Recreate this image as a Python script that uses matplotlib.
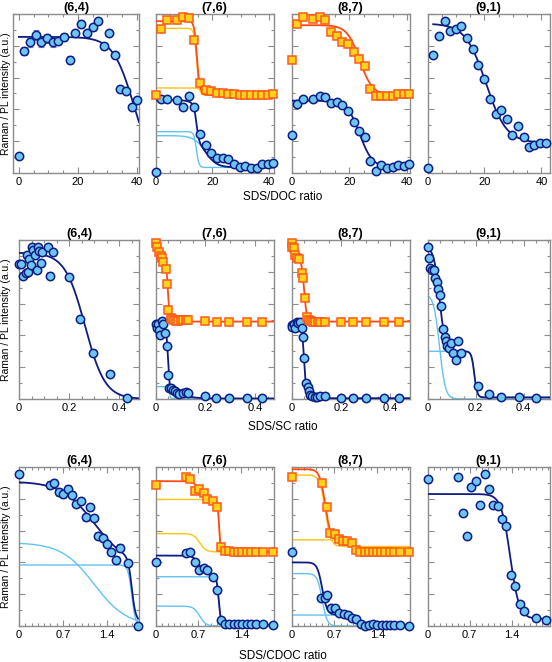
import numpy as np
import matplotlib.pyplot as plt
from matplotlib.ticker import MultipleLocator, FuncFormatter

plt.rcParams['font.family'] = ['Liberation Sans', 'DejaVu Sans']

W, H = 552, 662

chiralities = ['(6,4)', '(7,6)', '(8,7)', '(9,1)']
ratio_labels = ['SDS/DOC ratio', 'SDS/SC ratio', 'SDS/CDOC ratio']

# fit = (base, [(amplitude, centre, width, drawn_base or None)], x_from, x_to)

# ---------------- SDS/DOC ----------------
doc_64_x = [0, 1.8, 3.8, 5.7, 7.6, 9.5, 11.5, 13.4, 15.3, 17.2, 19.0, 21.0, 23.0, 25.0,
            26.8, 28.7, 30.5, 32.4, 34.3, 36.3, 38.2, 40.1]
doc_64_pl = [0.109, 0.77, 0.822, 0.868, 0.822, 0.847, 0.822, 0.83, 0.854, 0.711, 0.879, 0.937,
             0.879, 0.916, 0.954, 0.80, 0.879, 0.743, 0.527, 0.515, 0.414, 0.456]
doc_64_err = [0, 0.025, 0.03, 0.03, 0.03, 0.03, 0.03, 0.025, 0.025, 0.025, 0.02, 0.025, 0.02,
              0.02, 0.02, 0, 0, 0, 0, 0, 0, 0]
doc_64_plfit = (0.0, [(0.856, 38.9, 3.5, None)], 0, 40.7)

doc_76_x = [0, 1.9, 3.9, 7.7, 9.7, 11.7, 13.7, 15.7, 17.7, 19.6, 21.6, 23.6, 25.6, 27.6,
            29.6, 31.6, 33.6, 35.6, 37.5, 39.5, 41.5]
doc_76_pl = [0.008, 0.464, 0.464, 0.456, 0.418, 0.485, 0.418, 0.247, 0.178, 0.126, 0.092,
             0.096, 0.088, 0.059, 0.038, 0.042, 0.033, 0.033, 0.059, 0.059, 0.063]
doc_76_raman = [0.492, 0.904, 0.962, 0.962, 0.979, 0.973, 0.837, 0.565, 0.523, 0.513, 0.502,
                0.502, 0.498, 0.494, 0.492, 0.49, 0.49, 0.49, 0.49, 0.492, 0.494]
doc_76_plfit = (0.035, [(0.225, 14.4, 0.45, 0.035), (0.2, 17.5, 2.0, 0.035)], 0, 41.7)
doc_76_ramfit = (0.49, [(0.42, 14.5, 0.45, 0.49), (0.045, 16.0, 0.5, 0.49)], 0, 41.7)

doc_87_x = [0, 2, 3.9, 7.6, 9.7, 11.7, 13.6, 15.6, 17.6, 19.5, 21.5, 23.4, 25.4, 27.1, 29.1,
            31.1, 33.1, 35.0, 37.0, 39.0, 40.7]
doc_87_pl = [0.24, 0.433, 0.464, 0.464, 0.487, 0.481, 0.439, 0.444, 0.429, 0.391, 0.32, 0.266,
             0.224, 0.077, 0.01, 0.048, 0.031, 0.036, 0.048, 0.042, 0.054]
doc_87_raman = [0.711, 0.937, 0.979, 0.969, 0.979, 0.962, 0.885, 0.864, 0.826, 0.81, 0.764,
                0.715, 0.674, 0.529, 0.487, 0.487, 0.487, 0.487, 0.496, 0.494, 0.494]
doc_87_plfit = (0.035, [(0.42, 23.6, 2.2, None)], 0, 41.0)
doc_87_ramfit = (0.49, [(0.44, 23.6, 2.2, None)], 0, 41.0)

doc_91_x = [0, 2.1, 4, 6.1, 8, 9.9, 11.9, 13.9, 15.9, 17.9, 19.9, 21.9, 23.9, 25.8, 27.8,
            29.7, 31.7, 33.7, 35.6, 37.5, 39.5, 41.5]
doc_91_pl = [0.029, 0.743, 0.862, 0.954, 0.895, 0.908, 0.925, 0.851, 0.782, 0.68, 0.592, 0.464,
             0.37, 0.397, 0.341, 0.241, 0.297, 0.226, 0.161, 0.174, 0.188, 0.188]
doc_91_plfit = (0.19, [(0.75, 20.5, 3.6, None)], 2, 41.5)

# ---------------- SDS/SC ----------------
sc_64_x = [0, 0.007, 0.017, 0.028, 0.031, 0.036, 0.041, 0.047, 0.052, 0.057, 0.063, 0.071,
           0.076, 0.081, 0.087, 0.092, 0.115, 0.124, 0.135, 0.201, 0.244, 0.295, 0.364, 0.431]
sc_64_pl = [0.847, 0.847, 0.776, 0.79, 0.906, 0.797, 0.878, 0.843, 0.954, 0.937, 0.906, 0.811,
            0.954, 0.931, 0.853, 0.922, 0.954, 0.776, 0.922, 0.765, 0.503, 0.287, 0.157, 0.004]
sc_64_err = [0, 0, 0, 0, 0, 0, 0, 0, 0.02, 0.02, 0.02, 0.02, 0.02, 0.02, 0.02, 0.02, 0.02,
             0.02, 0.02, 0, 0, 0, 0, 0]
sc_64_plfit = (0.0, [(0.92, 0.264, 0.04, None)], 0, 0.48)

sc_76_ramx = [0, 0.008, 0.015, 0.021, 0.028, 0.032, 0.041, 0.047, 0.052, 0.061, 0.067, 0.075,
              0.083, 0.092, 0.101, 0.112, 0.121, 0.131, 0.2, 0.248, 0.293, 0.365, 0.428]
sc_76_raman = [0.979, 0.958, 0.927, 0.9, 0.887, 0.86, 0.818, 0.723, 0.56, 0.512, 0.503, 0.495,
               0.491, 0.493, 0.495, 0.495, 0.497, 0.495, 0.491, 0.486, 0.486, 0.486, 0.486]
sc_76_plx = [0, 0.005, 0.012, 0.015, 0.019, 0.025, 0.031, 0.039, 0.047, 0.052, 0.056, 0.064,
             0.069, 0.077, 0.085, 0.096, 0.111, 0.121, 0.131, 0.2, 0.241, 0.293, 0.365, 0.428]
sc_76_pl = [0.47, 0.444, 0.47, 0.434, 0.402, 0.49, 0.47, 0.413, 0.335, 0.151, 0.071, 0.067,
            0.055, 0.05, 0.036, 0.029, 0.036, 0.046, 0.036, 0.019, 0.008, 0.004, 0.004, 0.004]
sc_76_ramfit = (0.487, [(0.2, 0.035, 0.01, None), (0.3, 0.05, 0.003, None)], 0, 0.48)
sc_76_plfit = (0.003, [(0.075, 0.056, 0.002, 0.003), (0.33, 0.049, 0.003, None),
                       (0.05, 0.1, 0.03, None)], 0, 0.48)

sc_87_ramx = [0, 0.003, 0.01, 0.014, 0.022, 0.03, 0.041, 0.048, 0.054, 0.063, 0.071, 0.079,
              0.087, 0.097, 0.107, 0.117, 0.136, 0.2, 0.248, 0.3, 0.373, 0.437]
sc_87_raman = [0.983, 0.958, 0.948, 0.906, 0.889, 0.878, 0.79, 0.759, 0.633, 0.518, 0.497,
               0.491, 0.486, 0.486, 0.486, 0.486, 0.486, 0.486, 0.486, 0.486, 0.486, 0.486]
sc_87_plx = [0, 0.003, 0.01, 0.015, 0.022, 0.027, 0.033, 0.041, 0.046, 0.052, 0.06, 0.065,
             0.071, 0.076, 0.084, 0.094, 0.105, 0.117, 0.136, 0.2, 0.248, 0.3, 0.373, 0.437]
sc_87_pl = [0.465, 0.455, 0.47, 0.449, 0.482, 0.478, 0.486, 0.444, 0.388, 0.256, 0.099, 0.078,
            0.052, 0.025, 0.019, 0.015, 0.015, 0.019, 0.019, 0.004, 0.004, 0.004, 0.004, 0.004]
sc_87_ramfit = (0.487, [(0.15, 0.03, 0.008, None), (0.35, 0.052, 0.005, None)], 0, 0.48)
sc_87_plfit = (0.005, [(0.42, 0.05, 0.004, None), (0.05, 0.068, 0.004, None)], 0, 0.48)

sc_91_x = [0, 0.007, 0.012, 0.019, 0.028, 0.032, 0.039, 0.044, 0.05, 0.055, 0.064, 0.072,
           0.078, 0.082, 0.09, 0.097, 0.107, 0.12, 0.129, 0.141, 0.211, 0.256, 0.307, 0.381,
           0.45]
sc_91_pl = [0.954, 0.889, 0.822, 0.811, 0.811, 0.759, 0.738, 0.692, 0.654, 0.585, 0.438, 0.388,
            0.365, 0.333, 0.319, 0.35, 0.287, 0.245, 0.365, 0.287, 0.082, 0.031, 0.015, 0.015,
            0.008]
sc_91_plfit = (0.01, [(0.66, 0.05, 0.012, 0.0), (0.29, 0.195, 0.006, 0.01)], 0, 0.51)

# ---------------- SDS/CDOC ----------------
cdoc_64_x = [0, 0.488, 0.563, 0.633, 0.703, 0.778, 0.842, 0.917, 0.987, 1.062, 1.127, 1.202,
             1.261, 1.336, 1.406, 1.475, 1.545, 1.615, 1.733, 1.894]
cdoc_64_pl = [0.956, 0.884, 0.899, 0.842, 0.83, 0.861, 0.826, 0.769, 0.788, 0.683, 0.746,
              0.679, 0.569, 0.553, 0.515, 0.464, 0.416, 0.489, 0.395, 0.0]
cdoc_64_err = [0, 0.025, 0.025, 0.025, 0.025, 0.025, 0.02, 0.02, 0.02, 0.02, 0.02, 0.02,
               0.02, 0.02, 0.02, 0.02, 0.025, 0.025, 0.02, 0]
cdoc_64_plfit = (0.0, [(0.525, 1.2, 0.26, 0.0), (0.384, 1.8, 0.03, 0.0)], 0, 1.9)

cdoc_76_x = [0, 0.489, 0.565, 0.636, 0.712, 0.783, 0.837, 0.929, 0.995, 1.065, 1.13, 1.2,
             1.272, 1.348, 1.413, 1.484, 1.554, 1.63, 1.745, 1.918]
cdoc_76_raman = [0.884, 0.935, 0.924, 0.851, 0.861, 0.836, 0.798, 0.788, 0.748, 0.494, 0.473,
                 0.473, 0.468, 0.468, 0.468, 0.468, 0.464, 0.464, 0.464, 0.464]
cdoc_76_pl = [0.405, 0.462, 0.464, 0.401, 0.353, 0.363, 0.353, 0.307, 0.227, 0.038, 0.011,
              0.011, 0.013, 0.015, 0.015, 0.013, 0.011, 0.013, 0.011, 0.006]
cdoc_76_ramfit = (0.466, [(0.33, 1.035, 0.012, 0.466), (0.115, 0.72, 0.05, 0.466)], 0, 1.92)
cdoc_76_plfit = (0.008, [(0.31, 1.03, 0.018, 0.0), (0.125, 0.72, 0.05, 0.0)], 0, 1.92)

cdoc_87_ramx = [0, 0.5, 0.576, 0.63, 0.701, 0.766, 0.837, 0.908, 0.989, 1.054, 1.12, 1.19,
                1.255, 1.326, 1.391, 1.462, 1.527, 1.598, 1.663, 1.761, 1.913]
cdoc_87_raman = [0.935, 0.899, 0.746, 0.588, 0.578, 0.546, 0.532, 0.532, 0.525, 0.479, 0.468,
                 0.464, 0.468, 0.464, 0.468, 0.468, 0.464, 0.464, 0.464, 0.464, 0.464]
cdoc_87_plx = [0, 0.484, 0.538, 0.576, 0.636, 0.712, 0.772, 0.848, 0.918, 0.989, 1.054, 1.125,
               1.19, 1.261, 1.326, 1.391, 1.467, 1.533, 1.598, 1.668, 1.761, 1.913]
cdoc_87_pl = [0.468, 0.174, 0.179, 0.195, 0.116, 0.116, 0.08, 0.076, 0.069, 0.053, 0.044,
              0.011, 0.002, 0.006, 0.011, 0.006, 0.006, 0.006, 0.006, 0.006, 0.006, 0.002]
cdoc_87_ramfit = (0.466, [(0.45, 0.55, 0.045, 0.5), (0.07, 1.03, 0.02, 0.472)], 0, 1.92)
cdoc_87_plfit = (0.005, [(0.33, 0.5, 0.04, 0.0), (0.065, 1.08, 0.025, 0.004)], 0, 1.92)

cdoc_91_x = [0, 0.508, 0.58, 0.652, 0.729, 0.801, 0.873, 0.945, 1.017, 1.088, 1.16, 1.232,
             1.309, 1.381, 1.453, 1.525, 1.597, 1.79, 1.967]
cdoc_91_pl = [0.924, 0.935, 0.71, 0.563, 0.874, 0.91, 0.763, 0.956, 0.861, 0.763, 0.756, 0.672,
              0.626, 0.321, 0.254, 0.137, 0.095, 0.048, 0.038]
cdoc_91_plfit = (0.045, [(0.785, 1.37, 0.075, None)], 0, 1.97)

# panel table built from the arrays above
panels = [
    [dict(xlim=(-2, 40.7), pl=(doc_64_x, doc_64_pl, doc_64_err), plfit=doc_64_plfit),
     dict(xlim=(0, 41.7), pl=(doc_76_x, doc_76_pl, None), plfit=doc_76_plfit,
          ram=(doc_76_x, doc_76_raman), ramfit=doc_76_ramfit),
     dict(xlim=(0, 41.0), pl=(doc_87_x, doc_87_pl, None), plfit=doc_87_plfit,
          ram=(doc_87_x, doc_87_raman), ramfit=doc_87_ramfit),
     dict(xlim=(0, 43.0), pl=(doc_91_x, doc_91_pl, None), plfit=doc_91_plfit)],
    [dict(xlim=(0, 0.48), pl=(sc_64_x, sc_64_pl, sc_64_err), plfit=sc_64_plfit),
     dict(xlim=(0, 0.475), pl=(sc_76_plx, sc_76_pl, None), plfit=sc_76_plfit,
          ram=(sc_76_ramx, sc_76_raman), ramfit=sc_76_ramfit),
     dict(xlim=(0, 0.48), pl=(sc_87_plx, sc_87_pl, None), plfit=sc_87_plfit,
          ram=(sc_87_ramx, sc_87_raman), ramfit=sc_87_ramfit),
     dict(xlim=(0, 0.51), pl=(sc_91_x, sc_91_pl, None), plfit=sc_91_plfit)],
    [dict(xlim=(0, 1.915), pl=(cdoc_64_x, cdoc_64_pl, cdoc_64_err), plfit=cdoc_64_plfit),
     dict(xlim=(0, 1.93), pl=(cdoc_76_x, cdoc_76_pl, None), plfit=cdoc_76_plfit,
          ram=(cdoc_76_x, cdoc_76_raman), ramfit=cdoc_76_ramfit),
     dict(xlim=(0, 1.93), pl=(cdoc_87_plx, cdoc_87_pl, None), plfit=cdoc_87_plfit,
          ram=(cdoc_87_ramx, cdoc_87_raman), ramfit=cdoc_87_ramfit),
     dict(xlim=(0, 2.03), pl=(cdoc_91_x, cdoc_91_pl, None), plfit=cdoc_91_plfit)],
]

row_px = [(14, 173), (240, 399), (467, 626)]
col_px = [(19, 139), (155.5, 274), (291.5, 410), (427.5, 550)]
xticks = [(20, 5), (0.2, 0.05), (0.7, 0.1)]

NAVY = '#0e1c84'
CFACE = '#6cc6f0'
ORANGE = '#ff4a14'
SFACE = '#ffd21c'
SEDGE = '#ff5a1a'
YELLOW = '#ffc50f'
LBLUE = '#62c3f2'
ERRC = '#7d7dd0'
GRID = '#8c8c8c'


def sig(x, a, x0, w):
    return a / (1 + np.exp(np.clip((x - x0) / w, -60, 60)))


def draw_fit(ax, fit, col, comp_col):
    base, comps, x_from, x_to = fit
    xx = np.linspace(x_from, x_to, 600)
    total = np.full_like(xx, base)
    for a, x0, w, db in comps:
        total += sig(xx, a, x0, w)
        if db is not None:
            ax.plot(xx, db + sig(xx, a, x0, w), color=comp_col, lw=1.0, zorder=2)
    ax.plot(xx, total, color=col, lw=1.3, zorder=3)


fig = plt.figure(figsize=(W / 100, H / 100), dpi=100)

for r in range(3):
    top, bot = row_px[r]
    for c in range(4):
        l, rr = col_px[c]
        if r == 0 and c == 0:
            l = 13
        ax = fig.add_axes([l / W, 1 - bot / H, (rr - l) / W, (bot - top) / H])
        p = panels[r][c]

        if 'ramfit' in p:
            draw_fit(ax, p['ramfit'], ORANGE, YELLOW)
        draw_fit(ax, p['plfit'], NAVY, LBLUE)

        px, py, perr = p['pl']
        if perr is not None:
            ax.errorbar(px, py, yerr=perr, fmt='none', ecolor=ERRC, elinewidth=0.8,
                        capsize=2, capthick=0.8, zorder=4)
        ax.plot(px, py, 'o', ms=6.0, mfc=CFACE, mec=NAVY, mew=1.1, zorder=5, clip_on=False)
        if 'ram' in p:
            rx, ry = p['ram']
            ax.plot(rx, ry, 's', ms=5.4, mfc=SFACE, mec=SEDGE, mew=1.1, zorder=5,
                    clip_on=False)

        ax.set_xlim(*p['xlim'])
        ax.set_ylim(0, 1)
        ax.xaxis.set_major_locator(MultipleLocator(xticks[r][0]))
        ax.xaxis.set_minor_locator(MultipleLocator(xticks[r][1]))
        ax.xaxis.set_major_formatter(FuncFormatter(lambda v, pos: '0' if abs(v) < 1e-9 else '%g' % v))
        ax.yaxis.set_major_locator(MultipleLocator(0.2))
        ax.yaxis.set_minor_locator(MultipleLocator(0.1))
        ax.set_yticklabels([])
        ax.tick_params(which='both', direction='in', top=True, right=True, color=GRID,
                       width=0.8, labelsize=8, pad=3)
        ax.tick_params(which='major', length=4)
        ax.tick_params(which='minor', length=2.2)
        for s in ax.spines.values():
            s.set_color(GRID)
            s.set_linewidth(1.0)
        ax.set_title(chiralities[c], fontsize=9, fontweight='bold', pad=1.5)

    fig.text(6 / W, 1 - (top + bot) / 2 / H, 'Raman / PL intensity (a.u.)', rotation=90,
             ha='center', va='center', fontsize=7.5)

label_y = [197, 427, 656]
for r in range(3):
    fig.text(283 / W, 1 - label_y[r] / H, ratio_labels[r], ha='center', va='center',
             fontsize=8.5)

fig.savefig('out.png', dpi=100)
